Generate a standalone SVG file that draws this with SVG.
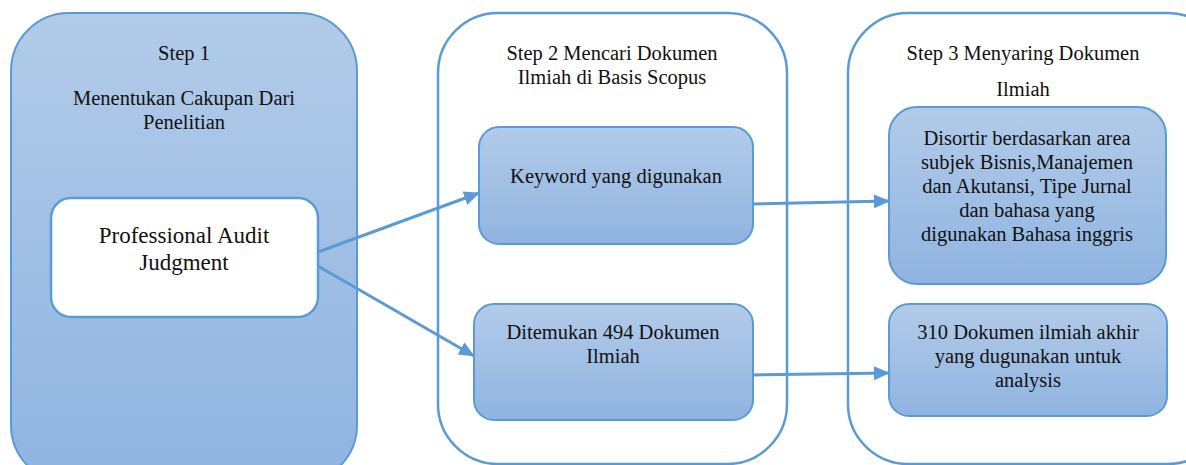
<svg xmlns="http://www.w3.org/2000/svg" width="1186" height="465" viewBox="0 0 1186 465">
<defs>
<linearGradient id="g" x1="0" y1="0" x2="0" y2="1">
<stop offset="0" stop-color="#b2cbe9"/>
<stop offset="1" stop-color="#8fb4e0"/>
</linearGradient>
<marker id="ah2" markerWidth="16" markerHeight="14" refX="15" refY="7" orient="auto" markerUnits="userSpaceOnUse" viewBox="0 0 16 14">
<path d="M0,0 L16,7 L0,14 Z" fill="#5b9bd5"/>
</marker>
</defs>
<style>
text{font-family:'Liberation Serif','Times New Roman','DejaVu Serif',serif;font-size:20.5px;fill:#111;text-anchor:middle}
.big{font-size:23px}
.grad{fill:url(#g);stroke:#5b9bd5;stroke-width:2}
.out{fill:#fff;stroke:#5b9bd5;stroke-width:2.5}
.c{stroke:#5b9bd5;stroke-width:3;fill:none}
</style>
<rect width="1186" height="465" fill="#fff"/>
<g id="step1">
<rect class="grad" x="11" y="13" width="346" height="470" rx="58"/>
<text x="184" y="60">Step 1</text>
<text x="184" y="105">Menentukan Cakupan Dari</text>
<text x="184" y="129">Penelitian</text>
</g>
<g id="judgment">
<rect x="51" y="198" width="267" height="119" rx="20" fill="#fff" stroke="#5b9bd5" stroke-width="2.5"/>
<text class="big" x="184" y="243">Professional Audit</text>
<text class="big" x="184" y="270">Judgment</text>
</g>
<g id="step2">
<rect class="out" x="438" y="13" width="349" height="451" rx="60"/>
<text x="612" y="60">Step 2 Mencari Dokumen</text>
<text x="612" y="84">Ilmiah di Basis Scopus</text>
</g>
<g id="keyword">
<rect class="grad" x="479" y="127" width="274" height="117" rx="20"/>
<text x="616" y="183">Keyword yang digunakan</text>
</g>
<g id="ditemukan">
<rect class="grad" x="474" y="304" width="279" height="116" rx="20"/>
<text x="613" y="339">Ditemukan 494 Dokumen</text>
<text x="613" y="363">Ilmiah</text>
</g>
<g id="step3">
<rect class="out" x="848" y="13" width="380" height="451" rx="60"/>
<text x="1023" y="60">Step 3 Menyaring Dokumen</text>
<text x="1023" y="96">Ilmiah</text>
</g>
<g id="disortir">
<rect class="grad" x="889" y="107" width="277" height="177" rx="28"/>
<text x="1027" y="145">Disortir berdasarkan area</text>
<text x="1027" y="169">subjek Bisnis,Manajemen</text>
<text x="1027" y="193">dan Akutansi, Tipe Jurnal</text>
<text x="1027" y="217">dan bahasa yang</text>
<text x="1027" y="241">digunakan Bahasa inggris</text>
</g>
<g id="final">
<rect class="grad" x="889" y="304" width="278" height="112" rx="20"/>
<text x="1028" y="339">310 Dokumen ilmiah akhir</text>
<text x="1028" y="363">yang dugunakan untuk</text>
<text x="1028" y="387">analysis</text>
</g>
<g id="connectors">
<line class="c" x1="318" y1="252" x2="479" y2="193" marker-end="url(#ah2)"/>
<line class="c" x1="318" y1="266" x2="474" y2="356" marker-end="url(#ah2)"/>
<line class="c" x1="753" y1="204" x2="889" y2="201" marker-end="url(#ah2)"/>
<line class="c" x1="753" y1="375" x2="889" y2="373" marker-end="url(#ah2)"/>
</g>
</svg>
